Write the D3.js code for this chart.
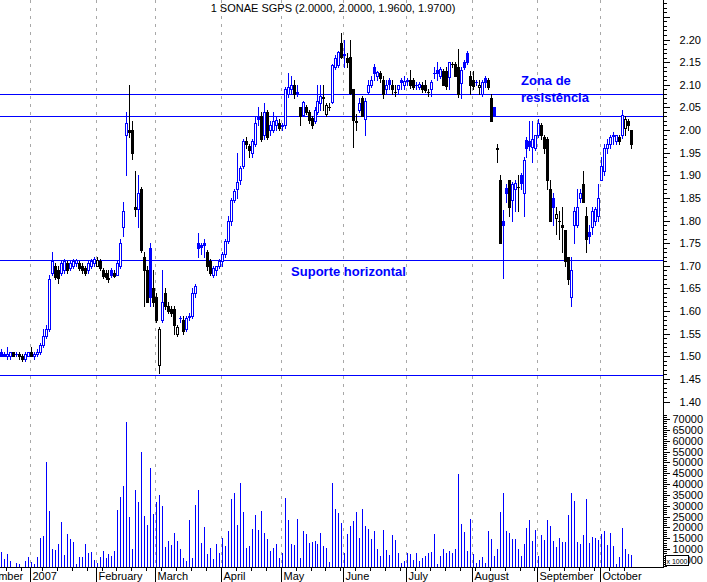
<!DOCTYPE html>
<html><head><meta charset="utf-8">
<script src="https://cdn.jsdelivr.net/npm/d3@7"></script>
<style>body{margin:0;background:#fff}svg{display:block}text{font-family:Arial,"Liberation Sans",sans-serif}</style>
</head><body>
<svg id="c" width="707" height="582"></svg>
<script>
const titleText = "1 SONAE SGPS (2.0000, 2.0000, 1.9600, 1.9700)";
const opens = [1.51,1.505,1.50,1.50,1.51,1.505,1.505,1.50,1.495,1.50,
1.51,1.50,1.505,1.51,1.525,1.545,1.56,1.685,1.70,1.69,1.685,1.69,1.705,1.695,1.70,1.705,1.705,1.70,1.695,1.69,1.70,1.705,
1.70,1.71,1.69,1.685,1.67,1.69,1.685,1.68,1.70,1.785,1.99,2.00,2.00,1.83,1.825,1.87,1.72,1.69,1.74,1.65,
1.63,1.48,1.58,1.64,1.61,1.605,1.605,1.55,1.585,1.58,1.56,1.587,1.59,1.64,1.75,1.745,1.75,1.73,1.71,1.68,1.69,1.70,
1.71,1.725,1.755,1.80,1.845,1.87,1.89,1.92,1.975,1.965,1.95,1.97,2.03,2.03,1.99,2.04,2.00,2.00,2.01,2.015,
2.01,2.01,2.08,2.09,2.10,2.085,2.05,2.033,2.05,2.04,2.027,2.02,2.04,2.06,2.07,2.035,2.05,2.062,2.14,2.144,2.193,
2.167,2.16,2.162,2.09,2.02,2.045,2.07,2.025,2.085,2.10,2.14,2.12,2.125,2.11,2.09,2.11,2.10,2.085,2.09,2.11,2.10,
2.11,2.11,2.11,2.10,2.095,2.10,2.10,2.084,2.09,2.126,2.133,2.12,2.13,2.13,2.117,2.145,2.145,2.14,2.104,2.15,2.17,2.12,
2.11,2.105,2.095,2.08,2.115,2.11,2.07,2.05,1.96,1.89,1.80,1.872,1.89,1.845,1.87,1.875,1.90,1.86,1.978,1.975,1.962,1.96,
1.99,2.01,1.985,1.98,1.87,1.85,1.805,1.80,1.79,1.78,1.72,1.63,1.79,1.79,1.85,1.88,1.81,1.775,1.785,1.80,1.81,
1.89,1.91,1.96,1.97,1.99,1.975,1.985,1.99,2.004,2.02,2.00];
const highs = [1.515,1.51,1.52,1.51,1.51,1.51,1.51,1.505,1.51,1.51,
1.52,1.51,1.515,1.53,1.56,1.57,1.68,1.73,1.705,1.70,1.71,1.715,1.71,1.71,1.715,1.715,1.71,1.705,1.70,1.71,1.715,1.72,
1.72,1.715,1.695,1.69,1.69,1.695,1.69,1.71,1.76,1.84,2.04,2.10,2.02,1.91,1.90,1.875,1.73,1.70,1.75,1.69,
1.64,1.565,1.69,1.65,1.62,1.61,1.61,1.57,1.59,1.59,1.59,1.595,1.65,1.66,1.772,1.75,1.76,1.735,1.715,1.70,1.70,1.715,
1.73,1.76,1.81,1.85,1.87,1.95,1.92,1.98,1.985,1.97,1.98,2.03,2.05,2.04,2.06,2.045,2.02,2.04,2.03,2.025,
2.015,2.095,2.126,2.12,2.11,2.10,2.05,2.065,2.055,2.045,2.03,2.05,2.10,2.10,2.10,2.06,2.06,2.145,2.165,2.175,2.215,
2.20,2.17,2.20,2.09,2.035,2.07,2.075,2.07,2.11,2.12,2.145,2.13,2.13,2.12,2.11,2.115,2.11,2.10,2.10,2.115,2.12,
2.115,2.133,2.115,2.105,2.105,2.105,2.11,2.09,2.11,2.14,2.15,2.14,2.135,2.14,2.15,2.15,2.15,2.18,2.14,2.155,2.175,2.13,
2.13,2.11,2.11,2.11,2.12,2.115,2.08,2.05,1.97,1.90,1.823,1.88,1.89,1.885,1.89,1.90,1.905,1.94,1.985,2.02,2.02,1.99,
2.025,2.015,1.99,1.985,1.89,1.86,1.83,1.82,1.83,1.78,1.72,1.72,1.83,1.87,1.87,1.91,1.83,1.79,1.83,1.83,1.88,
1.94,1.97,1.98,1.99,1.995,1.99,1.99,2.044,2.03,2.025,2.00];
const lows = [1.50,1.50,1.495,1.495,1.50,1.50,1.495,1.49,1.49,1.50,
1.50,1.495,1.50,1.505,1.52,1.54,1.555,1.68,1.67,1.662,1.68,1.685,1.685,1.69,1.695,1.70,1.69,1.685,1.68,1.685,1.695,1.70,
1.70,1.69,1.672,1.67,1.665,1.675,1.675,1.68,1.695,1.765,1.90,1.985,1.935,1.81,1.785,1.73,1.61,1.62,1.61,1.61,
1.575,1.463,1.575,1.605,1.595,1.59,1.55,1.545,1.575,1.55,1.555,1.58,1.585,1.63,1.72,1.725,1.72,1.69,1.68,1.675,1.68,1.695,
1.70,1.72,1.75,1.79,1.84,1.85,1.88,1.915,1.96,1.94,1.94,1.965,2.01,1.975,1.98,1.98,1.99,1.995,2.00,2.00,
2.00,2.005,2.073,2.08,2.07,2.075,2.01,2.03,2.035,2.015,2.005,2.015,2.035,2.045,2.045,2.03,2.045,2.06,2.135,2.14,2.16,
2.14,2.14,2.08,1.962,2.00,2.04,2.03,1.99,2.08,2.095,2.11,2.11,2.105,2.07,2.08,2.09,2.08,2.075,2.08,2.09,2.09,
2.10,2.093,2.09,2.09,2.09,2.085,2.085,2.075,2.075,2.115,2.11,2.115,2.10,2.09,2.09,2.14,2.12,2.073,2.07,2.135,2.145,2.08,
2.09,2.10,2.08,2.075,2.095,2.09,2.02,2.03,1.93,1.75,1.673,1.84,1.81,1.80,1.82,1.82,1.87,1.81,1.94,1.956,1.93,1.955,
1.985,1.98,1.95,1.87,1.80,1.79,1.77,1.76,1.73,1.70,1.66,1.61,1.75,1.785,1.84,1.84,1.73,1.75,1.77,1.79,1.80,
1.89,1.90,1.95,1.96,1.97,1.97,1.97,1.982,1.99,2.00,1.96];
const closes = [1.50,1.50,1.505,1.51,1.50,1.505,1.50,1.495,1.505,1.51,
1.50,1.505,1.51,1.525,1.545,1.56,1.67,1.71,1.675,1.672,1.705,1.71,1.69,1.705,1.71,1.712,1.695,1.69,1.685,1.705,1.71,1.715,
1.713,1.695,1.678,1.675,1.674,1.68,1.678,1.705,1.75,1.82,2.015,1.995,1.95,1.825,1.86,1.735,1.69,1.62,1.63,1.62,
1.58,1.56,1.62,1.61,1.60,1.595,1.57,1.565,1.584,1.555,1.585,1.59,1.64,1.655,1.74,1.742,1.745,1.70,1.685,1.695,1.70,1.71,
1.725,1.755,1.80,1.845,1.865,1.885,1.915,1.975,1.97,1.955,1.975,2.015,2.025,1.98,2.04,1.985,2.01,2.02,2.022,2.005,
2.008,2.09,2.095,2.10,2.08,2.08,2.03,2.062,2.04,2.022,2.011,2.045,2.065,2.075,2.072,2.055,2.05,2.144,2.16,2.173,2.162,
2.165,2.15,2.082,2.022,2.018,2.06,2.03,2.065,2.10,2.11,2.125,2.128,2.115,2.08,2.10,2.102,2.09,2.085,2.10,2.105,2.108,
2.109,2.10,2.095,2.10,2.102,2.09,2.088,2.084,2.105,2.126,2.127,2.135,2.10,2.098,2.15,2.145,2.12,2.08,2.133,2.14,2.15,2.10,
2.098,2.105,2.10,2.105,2.105,2.095,2.02,2.033,1.958,1.75,1.79,1.861,1.83,1.88,1.882,1.875,1.883,1.934,1.96,1.965,1.98,1.99,
2.015,1.99,1.96,1.89,1.80,1.83,1.815,1.80,1.785,1.71,1.67,1.69,1.82,1.83,1.86,1.84,1.76,1.765,1.82,1.825,1.85,
1.92,1.96,1.97,1.985,1.986,1.988,1.975,2.033,2.024,2.01,1.97];
const volumes = [8.8,5.4,7.8,4.4,0,3.6,3.3,0,4.4,6.4,
3.9,3.0,6.4,15.1,16.0,50.2,27.5,10.1,9.6,12.3,22.4,7.2,16.9,14.6,13.3,3.1,6.3,6.3,12.3,8.1,8.6,5.1,
3.6,6.3,9.1,5.9,7.7,6.8,9.1,28.0,34.0,38.9,68.8,24.8,10.1,37.2,31.7,54.8,25.3,21.1,47.4,26.3,
31.7,35.0,29.8,10.9,13.6,11.9,17.4,13.6,10.1,5.9,4.4,23.3,5.9,30.3,37.2,12.7,20.1,7.7,10.4,5.4,12.3,8.1,
15.1,11.4,18.3,33.0,35.9,21.1,40.5,27.1,10.4,11.4,19.3,25.7,18.8,27.5,17.4,14.6,9.1,10.4,12.3,5.9,
8.1,33.5,23.3,12.3,11.9,23.8,5.9,18.3,16.9,12.7,13.3,13.6,12.3,17.4,11.4,10.4,4.1,40.5,28.5,26.6,22.0,
8.1,16.9,20.6,23.0,27.1,15.1,28.5,20.6,19.3,14.6,18.3,10.1,6.8,18.8,9.6,7.2,16.5,14.1,8.1,3.6,4.4,
8.1,7.7,4.9,8.1,4.4,5.9,6.8,8.1,8.6,16.9,3.1,6.8,10.1,8.1,9.1,8.1,10.1,44.4,21.6,17.8,9.1,23.8,
7.7,3.6,4.9,6.3,3.6,18.3,14.6,6.8,10.1,27.1,35.9,18.3,17.4,14.6,14.6,10.1,6.8,12.3,19.8,23.3,13.6,18.8,
6.8,16.5,14.1,23.3,20.6,13.6,10.9,15.1,13.3,13.3,25.7,35.9,32.2,13.3,12.3,16.5,33.0,12.7,15.6,15.1,14.1,
16.9,18.3,11.9,17.4,11.4,3.1,6.3,19.8,10.1,7.7,7.2]; // thousands
const monthLabels = ["December","2007","February","March","April","May","June","July","August","September","October"];
const monthStarts = [-10,10,32,52,74,94,115,136,158,180,201];
const weekStarts = [2,7,10].concat(d3.range(14,212,5));
const priceLabels = d3.range(140,221,5).map(v=>v/100);
const volumeLabels = d3.range(5000,70001,5000);
const levelPrices = [2.08,2.03,1.713,1.459];
const notes = [
  {text:"Zona de", idx:174, price:2.099},
  {text:"resistência", idx:174, price:2.062},
  {text:"Suporte horizontal", idx:97, price:1.677}
];

const svg = d3.select("#c");
const N = closes.length;
const BLUE="#0000ff", BLACK="#000000";
const AXIS_X=663, BASE_Y=567;
const x = d3.scaleLinear().domain([0,N-1]).range([1.5,631.5]);
const y = d3.scaleLinear().domain([1.40,2.20]).range([401.5,39.5]);
const yv = d3.scaleLinear().domain([0,70000]).range([570.7,419]);
const px = i => Math.floor(x(i));

svg.append("rect").attr("width",707).attr("height",582).attr("fill","#fff");

// month gridlines
const grid = svg.append("g");
monthStarts.forEach(m=>{
  const gx = Math.round(x(m)-1.5)+0.5;
  if(gx<0) return;
  grid.append("line").attr("x1",gx).attr("x2",gx).attr("y1",0).attr("y2",BASE_Y)
    .attr("stroke","#a8a8a8").attr("stroke-dasharray","3,5");
});

// horizontal level lines
svg.append("g").selectAll("line").data(levelPrices).join("line")
  .attr("x1",0).attr("x2",AXIS_X).attr("y1",d=>Math.round(y(d))+0.5).attr("y2",d=>Math.round(y(d))+0.5)
  .attr("stroke",BLUE).attr("stroke-width",1);

// volume bars
svg.append("g").selectAll("line").data(volumes.map((v,i)=>({v:v*1000,i}))).join("line")
  .filter(d=>yv(d.v)<BASE_Y)
  .attr("x1",d=>px(d.i)+0.5).attr("x2",d=>px(d.i)+0.5)
  .attr("y1",BASE_Y).attr("y2",d=>Math.round(yv(d.v)))
  .attr("stroke",BLUE).attr("stroke-width",1);

// candles
const cg = svg.append("g");
for(let i=0;i<N;i++){
  const o=opens[i],h=highs[i],l=lows[i],c=closes[i];
  const prev = i>0?closes[i-1]:c;
  const col = c>=prev?BLUE:BLACK;
  const cx = px(i);
  cg.append("line").attr("x1",cx+0.5).attr("x2",cx+0.5)
    .attr("y1",Math.round(y(h))).attr("y2",Math.round(y(l))+1).attr("stroke",col);
  const top=Math.round(y(Math.max(o,c))), bot=Math.round(y(Math.min(o,c)));
  if(c>o && bot-top>=2){
    cg.append("rect").attr("x",cx-0.5).attr("y",top+0.5).attr("width",2).attr("height",bot-top)
      .attr("fill","#fff").attr("stroke",col).attr("stroke-width",1);
  } else {
    cg.append("rect").attr("x",cx-1).attr("y",top).attr("width",3).attr("height",Math.max(1,bot-top+1))
      .attr("fill",col);
  }
}

// axes lines
svg.append("line").attr("x1",AXIS_X+0.5).attr("x2",AXIS_X+0.5).attr("y1",0).attr("y2",BASE_Y+1).attr("stroke",BLACK);
svg.append("line").attr("x1",0).attr("x2",AXIS_X+1).attr("y1",BASE_Y+0.5).attr("y2",BASE_Y+0.5).attr("stroke",BLACK);

// price ticks
const ax = svg.append("g");
d3.range(139,229).forEach(k=>{
  const yy=Math.round(y(k/100))+0.5;
  if(yy<0||yy>406) return;
  ax.append("line").attr("x1",AXIS_X).attr("x2",AXIS_X+(k%5===0?7:4)).attr("y1",yy).attr("y2",yy).attr("stroke",BLACK);
});
ax.selectAll("text.p").data(priceLabels).join("text").attr("class","p")
  .attr("x",701).attr("y",d=>y(d)+4).attr("text-anchor","end").attr("font-size",11).text(d=>d.toFixed(2));

// volume ticks
d3.range(1000,72001,1000).forEach(v=>{
  const yy=Math.round(yv(v))+0.5;
  if(yy<411||yy>BASE_Y) return;
  ax.append("line").attr("x1",AXIS_X).attr("x2",AXIS_X+(v%5000===0?7:4)).attr("y1",yy).attr("y2",yy).attr("stroke",BLACK);
});
ax.selectAll("text.v").data(volumeLabels).join("text").attr("class","v")
  .attr("x",703).attr("y",d=>yv(d)+4).attr("text-anchor","end").attr("font-size",11).text(d=>d);
ax.append("rect").attr("x",665.5).attr("y",555.5).attr("width",23).attr("height",10).attr("fill","#fff").attr("stroke",BLACK);
ax.append("text").attr("x",677).attr("y",563.5).attr("text-anchor","middle").attr("font-size",7).text("x 1000");

// x axis ticks & labels
const xa = svg.append("g");
weekStarts.forEach(i=>{
  const tx=Math.round(x(i)-1.5)+0.5;
  xa.append("line").attr("x1",tx).attr("x2",tx).attr("y1",BASE_Y).attr("y2",BASE_Y+4).attr("stroke",BLACK);
});
monthStarts.forEach((m,k)=>{
  const tx=Math.round(x(m)-1.5)+0.5;
  xa.append("line").attr("x1",tx).attr("x2",tx).attr("y1",BASE_Y).attr("y2",582).attr("stroke",BLACK);
  xa.append("text").attr("x",tx+2).attr("y",580).attr("font-size",11).text(monthLabels[k]);
});

// title
svg.append("text").attr("x",333).attr("y",12).attr("text-anchor","middle").attr("font-size",11).text(titleText);

// annotations
svg.append("g").selectAll("text").data(notes).join("text")
  .attr("x",d=>x(d.idx)).attr("y",d=>y(d.price)).attr("font-size",13).attr("font-weight","bold")
  .attr("fill",BLUE).text(d=>d.text);
</script>
</body></html>
